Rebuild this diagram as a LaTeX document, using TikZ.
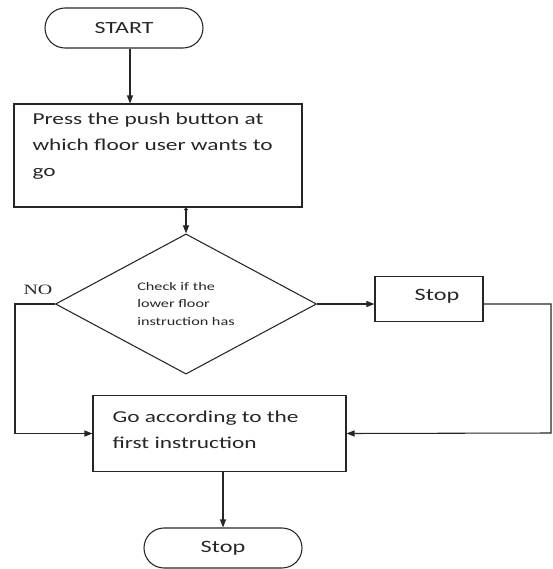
\documentclass[tikz,border=0pt]{standalone}
\usepackage{fontspec}
\setmainfont{Carlito}
\newfontfamily\flowfont[FakeStretch=1.4]{Carlito}
\newfontfamily\nofont[FakeStretch=1.4]{Liberation Serif}
\usepackage{tikz}
\usetikzlibrary{shapes.geometric,arrows.meta}

\begin{document}
\begin{tikzpicture}[x=0.75pt,y=0.75pt,yscale=-1,xscale=1,
  every path/.style={line width=0.8pt,color=black!85},
  term/.style={draw,rectangle,rounded corners=15pt,minimum width=118.5pt,minimum height=30pt,inner sep=0pt},
  procbox/.style={draw,rectangle,inner sep=0pt},
  boxtext/.style={anchor=north west,inner sep=0pt,align=left,font=\flowfont\fontsize{12.5}{19.5}\selectfont},
  arr/.style={-{Triangle[length=6pt,width=4.5pt]}}]
\useasboundingbox (0,0) rectangle (553,569);

%Terminal Nodes
\node [term,font=\flowfont\fontsize{12.8}{15}\selectfont] (start) at (124,28) {START};
\node [term,font=\flowfont\fontsize{13}{15}\selectfont] (endstop) at (223,548) {Stop};

%Process Boxes
\node [procbox,minimum width=216pt,minimum height=77.25pt] (press) at (158,155.5) {};
\node [procbox,minimum width=189.75pt,minimum height=57pt] (go) at (219.5,433.5) {};
\node [procbox,minimum width=81pt,minimum height=33.75pt] (stopbox) at (429,299) {};

%Decision
\node [draw,diamond,inner sep=0pt,minimum width=195.75pt,minimum height=96pt,align=left,
  font=\flowfont\fontsize{8.7}{13}\selectfont] (check) at (186,304) {Check if the\\lower floor\\instruction has};

% Text Node
\node [boxtext] (presstext) at (32,112) {Press the push button at\\which floor user wants to\\go};
% Text Node
\node [boxtext] (gotext) at (112,410) {Go according to the\\first instruction};
% Text Node
\node [font=\flowfont\fontsize{13}{15}\selectfont,inner sep=0pt] (stoptext) at (437,296) {Stop};
% Text Node
\node [font=\nofont\fontsize{10.7}{12}\selectfont,inner sep=0pt] (nolabel) at (38,290) {NO};

\coordinate (lcorner) at (15,304);
\coordinate (rcorner) at (551,433);

%Connectors
\draw [arr] ([xshift=4.5pt]start.south) -- ([xshift=4.5pt]start.south |- press.north);
\draw [{Triangle[length=2pt,width=3.5pt]}-{Triangle[length=6pt,width=4.5pt]}] (press.south -| check.north) -- (check.north);
\draw [arr] (check.east) -- (check.east -| stopbox.west);
\draw [arr] (check.west) -- (lcorner) |- (go.west);
\draw [arr] (stopbox.east |- check.east) -- (check.east -| rcorner) -- (rcorner) -- (go.east);
\draw [arr] (go.south -| endstop.north) -- (endstop.north);

\end{tikzpicture}
\end{document}
